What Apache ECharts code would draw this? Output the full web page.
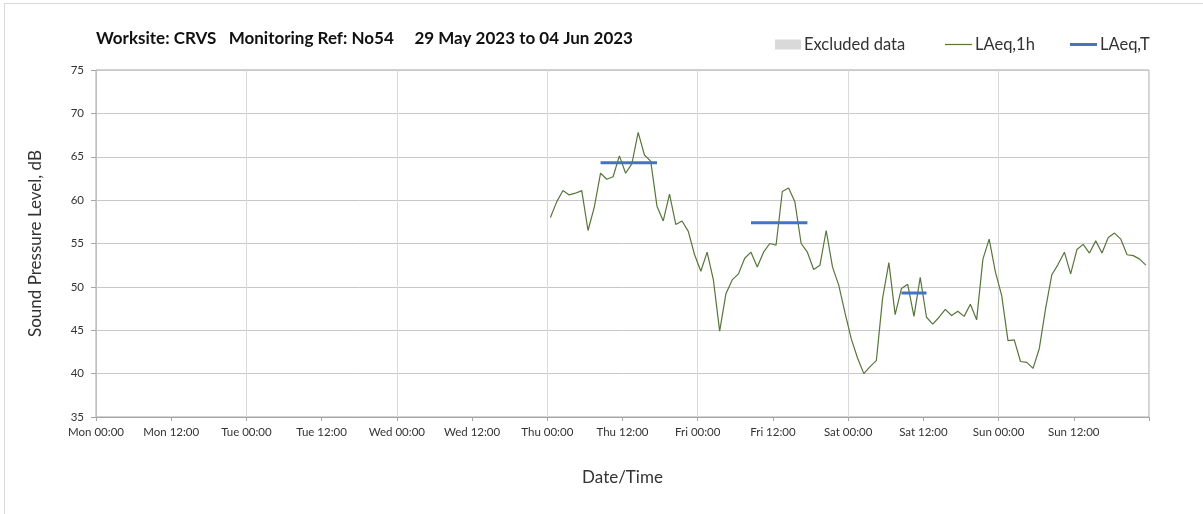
<!DOCTYPE html>
<html>
<head>
<meta charset="utf-8">
<script src="https://cdn.jsdelivr.net/npm/echarts@6/dist/echarts.min.js"></script>
<style>
  html, body { margin: 0; padding: 0; background: #fff; }
  #frame { position: absolute; left: 4px; top: 3px; width: 1240px; height: 540px; border: 1px solid #d9d9d9; }
  #chart { position: absolute; left: 0; top: 0; width: 1203px; height: 514px; }
</style>
</head>
<body>
<div id="frame"></div>
<div id="chart"></div>
<script>
// hours counted from Mon 00:00; hourly values plotted at the half hour
const dayNames = ['Mon', 'Tue', 'Wed', 'Thu', 'Fri', 'Sat', 'Sun'];
const firstHour = 72.5; // Thu 00:30

// LAeq,1h (dB) Thu 00:30 .. Sun 23:30
const laeq1h = [
  58.0, 59.8, 61.1, 60.6, 60.8, 61.1, 56.5, 59.2, 63.1, 62.4, 62.7, 65.1,
  63.1, 64.2, 67.8, 65.2, 64.5, 59.3, 57.6, 60.7, 57.2, 57.6, 56.4, 53.7,
  51.8, 54.0, 50.8, 44.9, 49.2, 50.8, 51.5, 53.3, 54.0, 52.3, 54.0, 55.0,
  54.8, 61.0, 61.4, 59.8, 55.0, 54.0, 52.0, 52.5, 56.5, 52.3, 50.2, 47.0,
  44.0, 41.8, 40.0, 40.8, 41.5, 48.7, 52.8, 46.8, 49.8, 50.3, 46.6, 51.1,
  46.5, 45.7, 46.5, 47.4, 46.7, 47.2, 46.6, 48.0, 46.2, 53.2, 55.5, 51.7,
  49.0, 43.8, 43.9, 41.4, 41.3, 40.6, 42.9, 47.5, 51.4, 52.6, 54.0, 51.5,
  54.3, 54.9, 53.9, 55.3, 53.9, 55.7, 56.2, 55.5, 53.7, 53.6, 53.2, 52.5
];

// LAeq,T periods (hours from Mon 00:00) and levels
const periodStart = [80.5, 104.5, 128.5];
const periodEnd = [89.5, 113.5, 132.5];
const periodLevel = [64.3, 57.4, 49.3];

const fontFamily = 'Lato, "Open Sans", sans-serif';
const green = '#56763a';
const blue = '#4472c4';

const lineData = laeq1h.map((v, i) => [firstHour + i, v]);
const periodSeries = periodStart.map((s, i) => ({
  name: 'LAeq,T',
  type: 'line',
  symbol: 'none',
  color: blue,
  lineStyle: { width: 3, color: blue },
  data: [[s, periodLevel[i]], [periodEnd[i], periodLevel[i]]],
  z: 3,
}));

// one legend per entry so each icon gets its own size
const legendText = { fontSize: 16.5, color: '#333', fontFamily, padding: [0, 0, 0, -2] };
const makeLegend = (name, left, w, h, color) => ({
  left, top: 36,
  padding: 0,
  icon: 'rect',
  itemWidth: w, itemHeight: h,
  itemStyle: { color, borderWidth: 0 },
  textStyle: legendText,
  data: [name],
});

const chart = echarts.init(document.getElementById('chart'));
chart.setOption({
  animation: false,
  textStyle: { fontFamily },
  title: {
    text: 'Worksite: CRVS   Monitoring Ref: No54     29 May 2023 to 04 Jun 2023',
    left: 91,
    top: 25,
    textStyle: { fontSize: 17, fontWeight: 'bold', color: '#111', fontFamily },
  },
  legend: [
    makeLegend('Excluded data', 775, 26, 10, '#d9d9d9'),
    makeLegend('LAeq,1h', 945, 27, 1.2, green),
    makeLegend('LAeq,T', 1070, 27, 3, blue),
  ],
  grid: {
    left: 96, right: 54, top: 70, bottom: 97,
    show: true, borderColor: '#a6a6a6', borderWidth: 1,
  },
  xAxis: [
    {
      type: 'value',
      min: 0, max: 168, interval: 12,
      name: 'Date/Time',
      nameLocation: 'middle',
      nameGap: 52,
      nameTextStyle: { fontSize: 17, color: '#333' },
      axisLine: { show: true, lineStyle: { color: '#a6a6a6' } },
      axisTick: { show: true, length: 4, lineStyle: { color: '#a6a6a6' } },
      axisLabel: {
        fontSize: 11.5, color: '#333', margin: 9,
        formatter: (v) => v >= 168 ? '' : dayNames[Math.floor(v / 24)] + ' ' + (v % 24 === 0 ? '00:00' : '12:00'),
      },
      splitLine: { show: false },
    },
    {
      type: 'value',
      position: 'top',
      min: 0, max: 168, interval: 24,
      axisLine: { show: false },
      axisTick: { show: false },
      axisLabel: { show: false },
      splitLine: { show: true, lineStyle: { color: '#d9d9d9' } },
    },
  ],
  yAxis: {
    type: 'value',
    min: 35, max: 75, interval: 5,
    name: 'Sound Pressure Level, dB',
    nameLocation: 'middle',
    nameGap: 52,
    nameTextStyle: { fontSize: 17, color: '#333' },
    axisLine: { show: true, lineStyle: { color: '#bfbfbf' } },
    axisTick: { show: true, length: 5, lineStyle: { color: '#a6a6a6' } },
    axisLabel: { fontSize: 11.5, color: '#333', margin: 12 },
    splitLine: { show: true, lineStyle: { color: '#c8c8c8' } },
  },
  series: [
    {
      name: 'Excluded data',
      type: 'line',
      color: '#d9d9d9',
      symbol: 'none',
      areaStyle: { color: '#d9d9d9' },
      data: [],
    },
    {
      name: 'LAeq,1h',
      type: 'line',
      symbol: 'none',
      color: green,
      lineStyle: { width: 1.2, color: green },
      data: lineData,
      z: 2,
    },
    ...periodSeries,
  ],
});
</script>
</body>
</html>
